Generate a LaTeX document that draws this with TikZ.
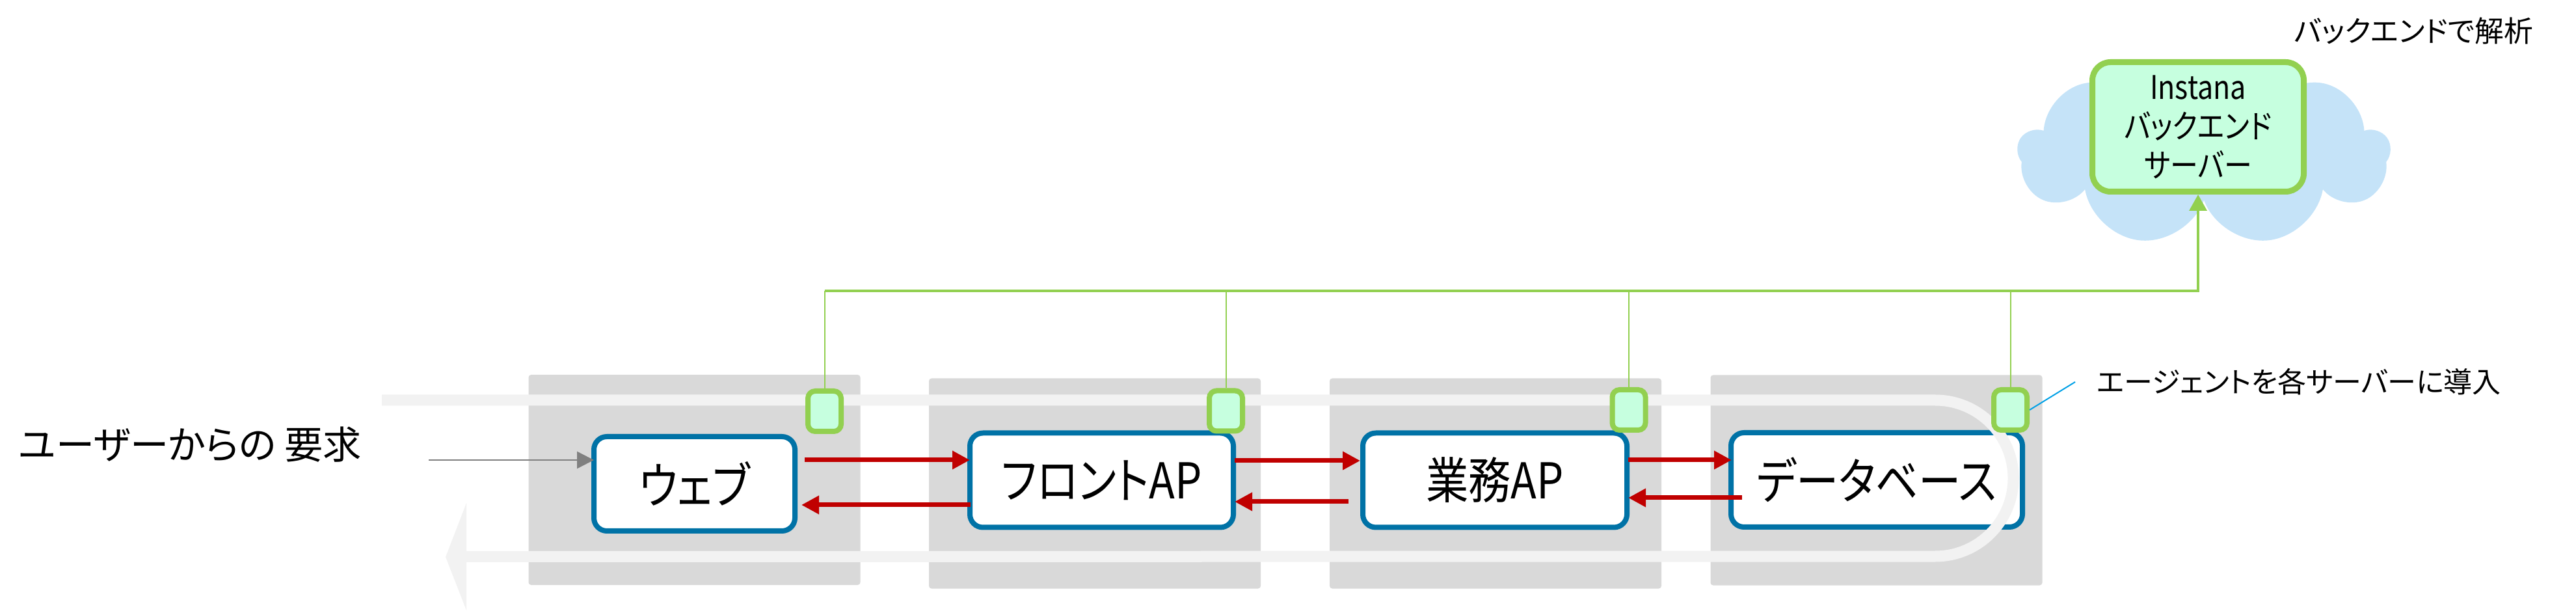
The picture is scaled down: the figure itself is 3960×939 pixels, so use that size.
\documentclass[tikz,border=0pt]{standalone}
\usepackage{fontspec}
\newfontfamily\jp[RawFeature=+palt]{Noto Sans CJK JP}
\newfontfamily\jpn[RawFeature=+palt,FakeStretch=0.86]{Noto Sans CJK JP}
\usetikzlibrary{arrows.meta,shapes.symbols,calc}
\definecolor{grayb}{HTML}{D9D9D9}
\definecolor{bandc}{HTML}{F2F2F2}
\definecolor{boxblue}{HTML}{0072A6}
\definecolor{agreen}{HTML}{92D050}
\definecolor{mint}{HTML}{C6FFDF}
\definecolor{cloudc}{HTML}{C5E3F8}
\definecolor{darkred}{HTML}{C00000}
\definecolor{callc}{HTML}{00A0E6}
\definecolor{arrgray}{HTML}{808080}
\begin{document}
\begin{tikzpicture}[x=0.25pt,y=-0.25pt,
  graybox/.style={fill=grayb, draw=none, rounded corners=1pt, inner sep=0pt,
    minimum width=127.5pt, minimum height=80.75pt},
  sysbox/.style={draw=boxblue, line width=2pt, fill=white, rounded corners=5pt,
    inner sep=0pt, minimum height=36.25pt, font=\jpn\fontsize{19}{22}\selectfont},
  agent/.style={draw=agreen, fill=mint, line width=2pt, rounded corners=2.8pt,
    inner sep=0pt, minimum width=12.75pt, minimum height=15.5pt},
  instbox/.style={draw=agreen, fill=mint, line width=2.25pt, rounded corners=7pt,
    inner sep=0pt, minimum width=81.25pt, minimum height=49.75pt, align=center,
    font=\jpn\fontsize{12.5}{15}\selectfont},
  redarr/.style={draw=darkred, line width=1.75pt, -{Triangle[length=6.75pt,width=6.75pt]}},
  grayarr/.style={draw=arrgray, line width=0.6pt, -{Triangle[length=6.5pt,width=6.5pt]}},
  gbranch/.style={draw=agreen, line width=0.5pt},
  gtrunk/.style={draw=agreen, line width=0.9pt},
  callout/.style={draw=callc, line width=0.5pt},
  bandline/.style={draw=bandc, line width=4.25pt},
  lbl/.style={inner sep=0pt, font=\jp\fontsize{#1}{#1}\selectfont}
]
\useasboundingbox (0,0) rectangle (3960,939);

% cloud
\node[cloud, cloud puffs=9, cloud ignores aspect, fill=cloudc, draw=none,
  minimum width=143pt, minimum height=70.75pt, inner sep=0pt] (cl) at (3388,236.5) {};

% gray server boxes
\node[graybox] (g1) at (1067.5,737.5) {};
\node[graybox] (g2) at (1683,743) {};
\node[graybox] (g3) at (2299,743) {};
\node[graybox] (g4) at (2884.5,738) {};

% main boxes
\node[sysbox, minimum width=77.25pt] (web) at (1067.5,743.5) {ウェブ};
\node[sysbox, minimum width=101.25pt] (front) at (1693.5,738) {フロントAP};
\node[sysbox, minimum width=101.5pt] (biz) at (2298,738) {業務AP};
\node[sysbox, minimum width=112pt] (db) at (2885,737.5) {データベース};

% flow band
\draw[bandline] (587,615) -- (2975,615) arc[start angle=90,end angle=-90,radius=30pt] -- (717,855.5);
\fill[bandc] (717,773) -- (685,856) -- (717,938) -- cycle;

% request
\node[lbl=14.8] (user) at (292.5,683) {ユーザーからの 要求};
\coordinate (ustart) at (659,707);
\draw[grayarr] (ustart) -- ($(web.west)+(4,-36.5)$);

% red arrows
\draw[redarr] ($(web.east)+(11,-36.5)$) -- ($(front.west)+(4,-31)$);
\draw[redarr] ($(front.west)+(5,38)$) -- ($(web.east)+(6,32.5)$);
\draw[redarr] ($(front.east)+(-2,-30)$) -- ($(biz.west)+(0,-30)$);
\draw[redarr] ($(biz.west)+(-18,33)$) -- ($(front.east)+(-2,33)$);
\draw[redarr] ($(biz.east)+(-2,-31)$) -- ($(db.west)+(5,-30.5)$);
\draw[redarr] ($(db.west)+(21,27.5)$) -- ($(biz.east)+(-2,27)$);

% agents
\node[agent] (a1) at (1267.5,632) {};
\node[agent] (a2) at (1884.5,631.5) {};
\node[agent] (a3) at (2504,630) {};
\node[agent] (a4) at (3090.5,630) {};

% backend server
\node[instbox] (inst) at (3379,195) {Instana\\バックエンド\\サーバー};
\coordinate (tr) at (3379,447);
\foreach \a in {a1,a2,a3,a4} \draw[gbranch] (\a.north) -- (\a.north |- tr);
\draw[gtrunk, -{Triangle[length=6.25pt,width=6.75pt]}] (a1.north |- tr) -- (tr) -- (inst.south);

% labels
\node[lbl=11.2] (bk) at (3710.5,48) {バックエンドで解析};
\node[anchor=west, inner xsep=8.25pt, inner ysep=0pt, font=\jp\fontsize{11}{11}\selectfont]
  (agtxt) at (3190,587) {エージェントを各サーバーに導入};
\draw[callout] (a4.east) -- (agtxt.west);
\end{tikzpicture}
\end{document}
